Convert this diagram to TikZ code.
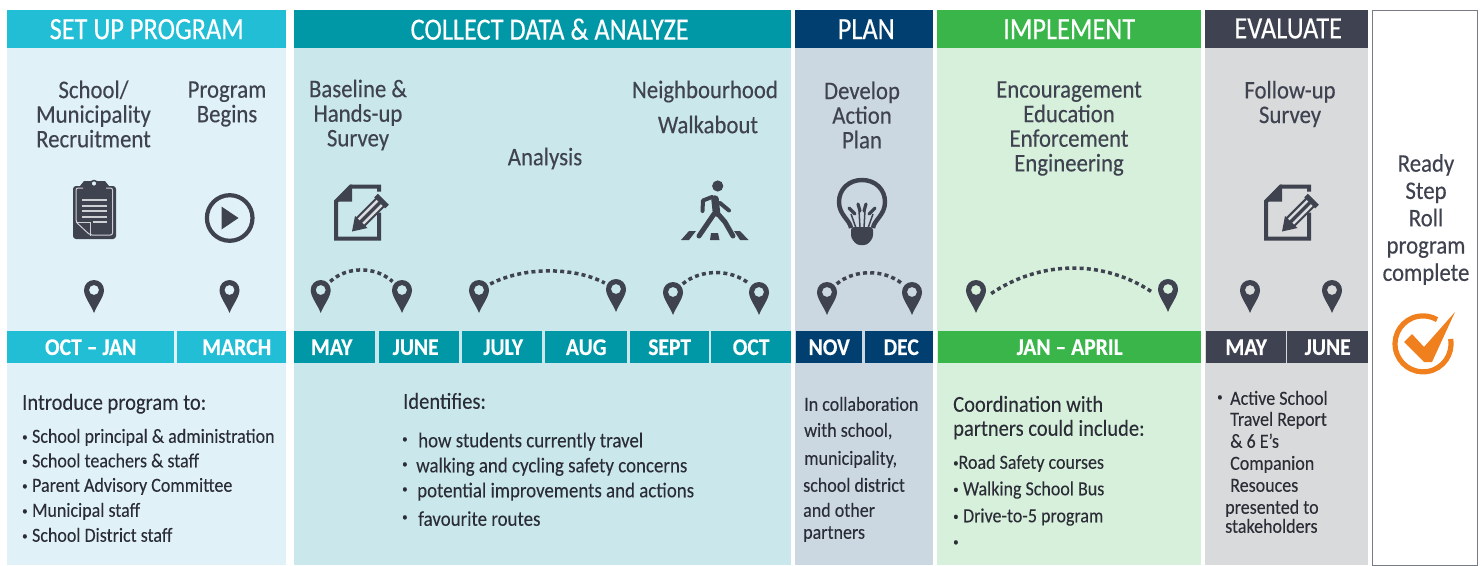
\documentclass[tikz,border=0pt]{standalone}
\usepackage{fontspec}
\setmainfont{Carlito}[FakeStretch=0.9,FakeBold=0.12]
\newfontfamily\headfont{Carlito}[FakeStretch=0.85,FakeBold=0.35]
\newfontfamily\titlefont{Carlito}[FakeStretch=0.9,FakeBold=0.3]
\definecolor{ink}{HTML}{3F4350}
\definecolor{bodyink}{HTML}{2B2D36}
\definecolor{setupdark}{HTML}{22BED6}
\definecolor{setuplight}{HTML}{E0F2F8}
\definecolor{collectdark}{HTML}{0098A6}
\definecolor{collectlight}{HTML}{CAE8EC}
\definecolor{plandark}{HTML}{003F6F}
\definecolor{planlight}{HTML}{CBD8E2}
\definecolor{impldark}{HTML}{39B54A}
\definecolor{impllight}{HTML}{D7F0DC}
\definecolor{evaldark}{HTML}{3F4250}
\definecolor{evallight}{HTML}{D9DADC}
\definecolor{tick}{HTML}{F07F1E}
\tikzset{
  panel/.style={rectangle,inner sep=0pt,minimum height=517,anchor=north west},
  headbar/.style={rectangle,inner sep=0pt,minimum height=38,anchor=north west,text=white,font=\headfont\fontsize{31}{31}\selectfont},
  datecell/.style={rectangle,inner sep=0pt,minimum height=32,anchor=north west,text=white,font=\fontsize{24}{24}\selectfont\bfseries},
  title/.style={inner sep=0pt,align=center,text=ink,font=\titlefont\fontsize{25.3}{24.6}\selectfont},
  bodyline/.style={inner sep=0pt,anchor=west,text=bodyink,text height=16.5pt,text depth=3pt,font=\fontsize{20}{20}\selectfont},
  idline/.style={bodyline,font=\fontsize{21}{20}\selectfont},
  headline/.style={bodyline,font=\fontsize{22.8}{22}\selectfont},
  pinhead/.style={circle,inner sep=0pt,minimum size=25},
  hop/.style={ink,line width=3.5,dash pattern=on 4 off 3.2},
}
\newcommand{\smallbul}{\raisebox{2pt}{\fontsize{12}{12}\selectfont•}}
\newcommand{\pinmark}[3]{%
  \fill[ink,even odd rule] (#2-10,#3) .. controls (#2-10,#3-5.5) and (#2-5.5,#3-10) .. (#2,#3-10)
    .. controls (#2+5.5,#3-10) and (#2+10,#3-5.5) .. (#2+10,#3)
    .. controls (#2+10,#3+7) and (#2+3,#3+15) .. (#2,#3+23)
    .. controls (#2-3,#3+15) and (#2-10,#3+7) .. cycle (#2,#3) circle (5);
  \node[pinhead] (#1) at (#2,#3) {};
}
\newcommand{\docpencil}[2]{%
  \begin{scope}[shift={(#1,#2)}]
  \draw[ink,line width=4,line join=miter] (45,7) -- (45,2) -- (17,2) -- (2,17) -- (2,54) -- (45,54) -- (45,28);
  \fill[ink] (0,17) -- (16,0) -- (18,0) -- (18,17) -- cycle;
  \draw[ink,line width=13] (26,38) -- (46,18);
  \draw[white!82!ink,line width=8.5] (26,38) -- (46,18);
  \draw[ink,line width=3.5] (26,38) -- (46,18);
  \fill[ink] (18,47) -- (21,31.5) -- (33.5,43.5) -- cycle;
  \draw[ink,line width=5] (42,11) -- (53,22);
  \end{scope}
}
\begin{document}
\begin{tikzpicture}[x=1pt,y=-1pt]
\useasboundingbox (0,0) rectangle (1482,565);
% panels
\node[panel,fill=setuplight,minimum width=279] (setupbody) at (7,48) {};
\node[panel,fill=collectlight,minimum width=497] (collectbody) at (294,48) {};
\node[panel,fill=planlight,minimum width=138] (planbody) at (795,48) {};
\node[panel,fill=impllight,minimum width=264] (implbody) at (937,48) {};
\node[panel,fill=evallight,minimum width=163] (evalbody) at (1205,48) {};
\node[rectangle,draw=ink!70,line width=1.2,inner sep=0pt,minimum width=105,minimum height=555,anchor=north west] (donebox) at (1372,10) {};
% header bars
\node[headbar,fill=setupdark,minimum width=279] (setuphead) at (7,10) {SET UP PROGRAM};
\node[headbar,fill=collectdark,minimum width=497] (collecthead) at (294,10) {\hspace{14pt}COLLECT DATA \& ANALYZE};
\node[headbar,fill=plandark,minimum width=138] (planhead) at (795,10) {\hspace{4pt}PLAN};
\node[headbar,fill=impldark,minimum width=264] (implhead) at (937,10) {IMPLEMENT};
\node[headbar,fill=evaldark,minimum width=163] (evalhead) at (1205,10) {\raisebox{1.5pt}{\hspace{3pt}EVALUATE}};
% date bars
\node[datecell,fill=setupdark,minimum width=167] (octjan) at (7,331) {OCT -- JAN};
\node[datecell,fill=setupdark,minimum width=109] (march) at (177,331) {\hspace{10pt}MARCH};
\node[datecell,fill=collectdark,minimum width=81] (may) at (294,331) {MAY\kern6pt};
\node[datecell,fill=collectdark,minimum width=80] (june) at (379,331) {JUNE\kern7pt};
\node[datecell,fill=collectdark,minimum width=80] (july) at (462,331) {\hspace{2pt}JULY};
\node[datecell,fill=collectdark,minimum width=82] (aug) at (545,331) {AUG};
\node[datecell,fill=collectdark,minimum width=79] (sept) at (630,331) {SEPT};
\node[datecell,fill=collectdark,minimum width=80] (oct) at (711,331) {OCT};
\node[datecell,fill=plandark,minimum width=66] (nov) at (796,331) {NOV};
\node[datecell,fill=plandark,minimum width=68] (dec) at (865,331) {\hspace{4pt}DEC};
\node[datecell,fill=impldark,minimum width=263] (janapril) at (938,331) {JAN -- APRIL};
\node[datecell,fill=evaldark,minimum width=80] (mayb) at (1206,331) {MAY};
\node[datecell,fill=evaldark,minimum width=81] (juneb) at (1287,331) {JUNE};
% titles
\node[title] (recruit) at (93.5,114) {School/\\Municipality\\Recruitment};
\node[title] (begins) at (227,104) {Program\\Begins};
\node[title] (baseline) at (358,115) {Baseline \&\\Hands-up\\Survey};
\node[title] (analysis) at (545,158.5) {Analysis};
\node[title] (neighbour) at (705,91.5) {Neighbourhood};
\node[title] (walkabout) at (708,124.5) {Walkabout};
\node[title] (develop) at (862,115) {Develop\\Action\\Plan};
\node[title] (fourE) at (1069,128.5) {Encouragement\\Education\\Enforcement\\Engineering};
\node[title] (followup) at (1290,104) {Follow-up\\Survey};
\node[title,font=\titlefont\fontsize{25.3}{27.3}\selectfont] (ready) at (1426,219.5) {Ready\\Step\\Roll\\program\\complete};
% set up text
\node[headline] (introhead) at (22,403) {Introduce program to:};
\node[bodyline] (intro1) at (22,436) {\smallbul\hspace{4.5pt}School principal \& administration};
\node[bodyline] (intro2) at (22,460.5) {\smallbul\hspace{4.5pt}School teachers \& staff};
\node[bodyline] (intro3) at (22,485) {\smallbul\hspace{4.5pt}Parent Advisory Committee};
\node[bodyline] (intro4) at (22,510) {\smallbul\hspace{4.5pt}Municipal staff};
\node[bodyline] (intro5) at (22,535) {\smallbul\hspace{4.5pt}School District staff};
% collect text
\node[headline] (idhead) at (403,402) {Identifies:};
\node[idline] (idbul1) at (402,438) {\smallbul};
\node[idline] (id1) at (418,440.5) {how students currently travel};
\node[idline] (idbul2) at (402,463) {\smallbul};
\node[idline] (id2) at (416,465.5) {walking and cycling safety concerns};
\node[idline] (idbul3) at (402,488) {\smallbul};
\node[idline] (id3) at (417,490.5) {potential improvements and actions};
\node[idline] (idbul4) at (402,516) {\smallbul};
\node[idline] (id4) at (418,519) {favourite routes};
% plan text
\node[bodyline] (collab1) at (804,404) {In collaboration};
\node[bodyline] (collab2) at (804,430) {with school,};
\node[bodyline] (collab3) at (804,458) {municipality,};
\node[bodyline] (collab4) at (803,485) {school district};
\node[bodyline] (collab5) at (803,510) {and other};
\node[bodyline] (collab6) at (803,532) {partners};
% implement text
\node[headline] (coord1) at (953,405) {Coordination with};
\node[headline] (coord2) at (953,429) {partners could include:};
\node[bodyline] (coord3) at (953,462) {\smallbul Road Safety courses};
\node[bodyline] (coord4) at (953,488.5) {\smallbul\hspace{4.5pt}Walking School Bus};
\node[bodyline] (coord5) at (953,515.5) {\smallbul\hspace{4.5pt}Drive-to-5 program};
\node[bodyline] (coord6) at (953,541) {\smallbul};
% evaluate text
\node[bodyline] (report0) at (1217,396) {\smallbul};
\node[bodyline] (report1) at (1230,398) {Active School};
\node[bodyline] (report2) at (1230,419) {Travel Report};
\node[bodyline] (report3) at (1230,441) {\& 6 E's};
\node[bodyline] (report4) at (1230,463) {Companion};
\node[bodyline] (report5) at (1230,485) {Resouces};
\node[bodyline] (report6) at (1225,507) {presented to};
\node[bodyline] (report7) at (1225,526) {stakeholders};
% pins
\pinmark{pinoct}{94}{290}
\pinmark{pinmar}{229.5}{290}
\pinmark{pinmay}{320.7}{290}
\pinmark{pinjun}{402}{290}
\pinmark{pinjul}{479}{290}
\pinmark{pinaug}{616}{289}
\pinmark{pinsep}{673}{292}
\pinmark{pinoc}{759}{292}
\pinmark{pinnov}{827}{292}
\pinmark{pindec}{912}{292}
\pinmark{pinjan}{976}{290}
\pinmark{pinapr}{1168}{289}
\pinmark{pinmayb}{1250}{290}
\pinmark{pinjunb}{1332}{290}
% hops
\draw[hop] (pinmay) to[out=42,in=138,looseness=.95] (pinjun);
\draw[hop] (pinjul) to[out=28,in=152,looseness=.8] (pinaug);
\draw[hop] (pinsep) to[out=40,in=140,looseness=.9] (pinoc);
\draw[hop] (pinnov) to[out=40,in=140,looseness=.9] (pindec);
\draw[hop,shorten <=5,shorten >=5] (pinjan.-30) to[out=34,in=146,looseness=.97] (pinapr.210);
% clipboard
\fill[ink,rounded corners=3] (73,186) rectangle (116,239);
\fill[ink] (80,186) -- (84,181) -- (105,181) -- (109,186) -- (107,192) -- (82,192) -- cycle;
\draw[ink,line width=1.5,fill=setuplight] (94,183.5) circle (3);
\draw[white!75!ink,line width=1,rounded corners=2] (106,188) -- (112.5,188) -- (112.5,235) -- (90,235) -- (76,222) -- (76,188) -- (83,188);
\draw[white!75!ink,line width=1] (76,222) -- (90,222) -- (90,236);
\draw[white!75!ink,line width=2] (82,200) -- (107,200) (82,205.5) -- (107,205.5) (82,211) -- (107,211) (82,216.5) -- (107,216.5) (93,222) -- (107,222);
% play
\draw[ink,line width=4.2] (229.7,218) circle (22.8);
\fill[ink] (221.5,206.5) -- (238.5,218) -- (221.5,229.5) -- cycle;
% survey icons
\docpencil{334}{184.5}
\docpencil{1264}{184.5}
% walker
\fill[ink] (717.7,186) circle (5.6);
\draw[ink,line width=7.5,line cap=round,line join=round] (715,199) -- (716.5,213);
\draw[ink,line width=4,line cap=round,line join=round] (712,197) -- (703,200.5) -- (702.5,211);
\draw[ink,line width=4,line cap=round,line join=round] (720,203) -- (729,210.5);
\draw[ink,line width=5,line cap=round,line join=round] (714,214) -- (699,236);
\draw[ink,line width=5,line cap=round,line join=round] (718,214) -- (725,222) -- (733,236);
\fill[ink] (681,240) -- (689,231) -- (696,231) -- (689,240) -- cycle;
\fill[ink] (711,233) -- (718,233) -- (719.5,240) -- (710,240) -- cycle;
\fill[ink] (734,231) -- (740,231) -- (748.5,240) -- (740,240) -- cycle;
% bulb
\draw[ink,line width=4.4,line join=round] (851,228) .. controls (850,220) and (839,215) .. (839,202)
  .. controls (839,189) and (849,180) .. (862,180)
  .. controls (875,180) and (885,189) .. (885,202)
  .. controls (885,215) and (874,220) .. (873,228);
\fill[ink,rounded corners=3] (851,227) -- (873,227) -- (873,238) -- (867,245) -- (857,245) -- (851,238) -- cycle;
\draw[ink,line width=1.5] (856,228) -- (851,214) (868,228) -- (873,214) (860,228) -- (859,210) (864,228) -- (865,210);
\draw[ink,line width=3.2,line cap=round] (849,208) -- (855,214) (858,204) -- (860,211) (866,204) -- (864,211) (875,208) -- (869,214);
% check
\draw[tick,line width=5.2] (1450.6,339) arc (-10:300:28);
\fill[tick] (1404,342) -- (1412,334) -- (1424,347) -- (1455,312) -- (1432,362) -- (1424,362) -- cycle;
\end{tikzpicture}
\end{document}
